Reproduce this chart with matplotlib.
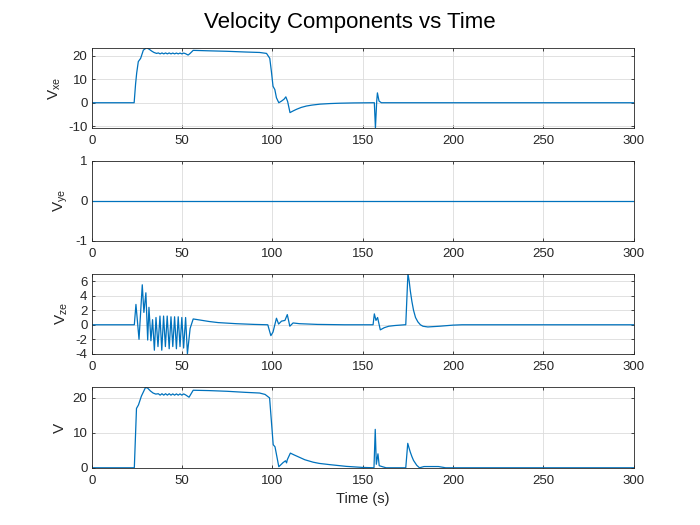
import matplotlib
matplotlib.use('Agg')
import matplotlib.pyplot as plt

# time / value pairs
t_xe = [0, 23.5, 24.3, 24.9, 25.8, 27.1, 28.6, 30.4, 31.8, 33.2,
        34.5, 35.9, 36.9, 37.9, 38.9, 39.9, 40.9, 41.9, 42.9, 43.9,
        44.9, 45.9, 46.9, 47.9, 48.9, 49.9, 50.9, 51.9, 53.4, 54.5,
        56.2, 65, 75, 85, 93, 96.8, 98.6, 99.5, 100.4, 101.4,
        102.3, 103.6, 105.1, 106.5, 107.5, 108.5, 109.8, 111.5, 113.4, 116,
        118.9, 122, 126.4, 132, 137.4, 145, 155.8, 156.5, 157.1, 157.8,
        158.2, 159.1, 160.4, 300]
v_xe = [0, 0, 8, 12.6, 17.5, 18.9, 22.4, 23.4, 22.8, 22.0,
        21.4, 21.0, 21.2, 20.8, 21.2, 20.8, 21.2, 20.8, 21.2, 20.8,
        21.15, 20.8, 21.15, 20.8, 21.15, 20.8, 21.15, 20.9, 20.3, 21.0,
        22.3, 22.1, 21.9, 21.6, 21.4, 21.0, 18.9, 13.3, 7.0, 5.6,
        2.1, 0.0, 0.7, 1.5, 2.5, 0.5, -4.2, -3.5, -2.8, -2.0,
        -1.4, -1.0, -0.6, -0.35, -0.2, -0.08, 0, 0, -10.8, 0.5,
        4.2, 0.7, 0, 0]

t_ye = [0, 300]
v_ye = [0, 0]

t_ze = [0, 23.6, 24.5, 26.2, 28.0, 28.9, 30.0, 31.0, 31.7, 32.8,
        33.7, 34.7, 35.6, 36.7, 37.8, 38.8, 39.8, 40.8, 41.8, 42.9,
        43.9, 44.9, 45.9, 46.9, 47.9, 48.9, 49.9, 50.9, 52.0, 53.0,
        54.5, 56.2, 60, 65, 70, 80, 90, 97.5, 99.2, 100.4,
        102.3, 103.5, 105.1, 107.0, 108.3, 109.7, 111.5, 115, 125, 140,
        155.8, 156.5, 157.4, 158.3, 159.8, 162, 164.5, 168, 173.3, 173.9,
        175.1, 175.8, 176.4, 177.3, 178.2, 179.3, 180.6, 182.0, 183.4, 186.1,
        192.6, 200, 205, 300]
v_ze = [0, 0, 2.8, -2.0, 5.5, 1.7, 4.4, -2.1, 2.4, -2.2,
        0.7, -3.5, 1.0, -3.0, 1.2, -3.5, 1.2, -3.0, 1.2, -3.3,
        1.1, -3.0, 1.1, -3.3, 1.1, -3.0, 1.0, -3.2, 1.0, -4.0,
        -0.5, 0.8, 0.65, 0.45, 0.3, 0.15, 0.05, 0, -1.5, -1.0,
        0.9, 0.1, 0.5, 0.6, 1.4, -0.2, 0.25, 0.15, 0.05, 0,
        0, 1.5, 0.6, 1.0, -0.7, -0.4, -0.2, -0.1, 0, 0,
        7.05, 6.0, 4.7, 3.2, 2.0, 1.0, 0.4, 0.0, -0.2, -0.3,
        -0.2, -0.05, 0, 0]

t_v = [0, 23.6, 24.8, 25.9, 27.5, 29.8, 31.0, 32.5, 34.0, 35.5,
       36.9, 37.9, 38.9, 39.9, 40.9, 41.9, 42.9, 43.9, 44.9, 45.9,
       46.9, 47.9, 48.9, 49.9, 50.9, 51.9, 53.9, 56.2, 65, 75,
       85, 93, 96, 98.5, 100.5, 101.5, 103.6, 106, 107.3, 107.9,
       108.3, 110, 112, 115, 118, 122.6, 126, 131.8, 141, 150,
       156.3, 157.0, 157.6, 158.5, 159.2, 161, 163, 173.9, 175.0, 175.7,
       176.4, 177.3, 178.2, 180.0, 181.5, 184, 192, 196, 300]
v_v = [0, 0, 17, 18, 20.5, 23, 22.8, 22.0, 21.4, 21.1,
       21.2, 20.8, 21.2, 20.8, 21.2, 20.8, 21.2, 20.8, 21.15, 20.8,
       21.15, 20.8, 21.15, 20.8, 21.15, 20.9, 20.2, 22.2, 22.1, 21.9,
       21.6, 21.4, 21.0, 20.0, 6.6, 6.0, 0.3, 1.5, 2.0, 1.4,
       2.3, 4.2, 3.7, 3.0, 2.3, 1.6, 1.25, 0.9, 0.4, 0.1,
       0, 11.0, 1.0, 4.0, 0.6, 0.3, 0, 0, 7.0, 5.7,
       4.5, 3.2, 2.1, 0.7, 0, 0.35, 0.35, 0, 0]

x_ticks = [0, 50, 100, 150, 200, 250, 300]

panels = [
    (t_xe, v_xe, r'$\mathrm{V_{xe}}$', [-10, 0, 10, 20], None),
    (t_ye, v_ye, r'$\mathrm{V_{ye}}$', [-1, 0, 1], (-1, 1)),
    (t_ze, v_ze, r'$\mathrm{V_{ze}}$', [-4, -2, 0, 2, 4, 6], None),
    (t_v, v_v, 'V', [0, 10, 20], None),
]
bottoms = [0.756, 0.541, 0.326, 0.109]


def main():
    plt.rcParams['font.family'] = ['Liberation Sans', 'DejaVu Sans']
    plt.rcParams['mathtext.fontset'] = 'custom'
    plt.rcParams['mathtext.rm'] = 'Liberation Sans'
    plt.rcParams['mathtext.it'] = 'Liberation Sans:italic'
    plt.rcParams['axes.unicode_minus'] = False

    dark = '#262626'
    fig = plt.figure(figsize=(7, 5.25), dpi=100)

    for (t, v, lab, yt, ylim), b in zip(panels, bottoms):
        ax = fig.add_axes([0.131, b, 0.774, 0.153])
        ax.plot(t, v, color='#0072BD', lw=0.9)
        ax.set_xlim(0, 300)
        if ylim is None:
            ylim = (min(v), max(v))
        ax.set_ylim(*ylim)
        ax.set_xticks(x_ticks)
        ax.set_yticks(yt)
        ax.grid(True, color='#dcdcdc', lw=0.6)
        ax.set_axisbelow(True)
        ax.tick_params(direction='in', top=True, right=True, length=2.5,
                       width=0.6, color=dark, labelcolor=dark, labelsize=9.5)
        ax.tick_params(axis='x', pad=5)
        ax.tick_params(axis='y', pad=3)
        for s in ax.spines.values():
            s.set_color(dark)
            s.set_linewidth(0.6)
        ax.set_ylabel(lab, fontsize=11, color=dark)

    ax.set_xlabel('Time (s)', fontsize=10.5, color=dark)
    fig.text(0.5, 0.958, 'Velocity Components vs Time', ha='center',
             va='center', fontsize=16, color='black')

    fig.savefig('out.png', dpi=100)


if __name__ == '__main__':
    main()
